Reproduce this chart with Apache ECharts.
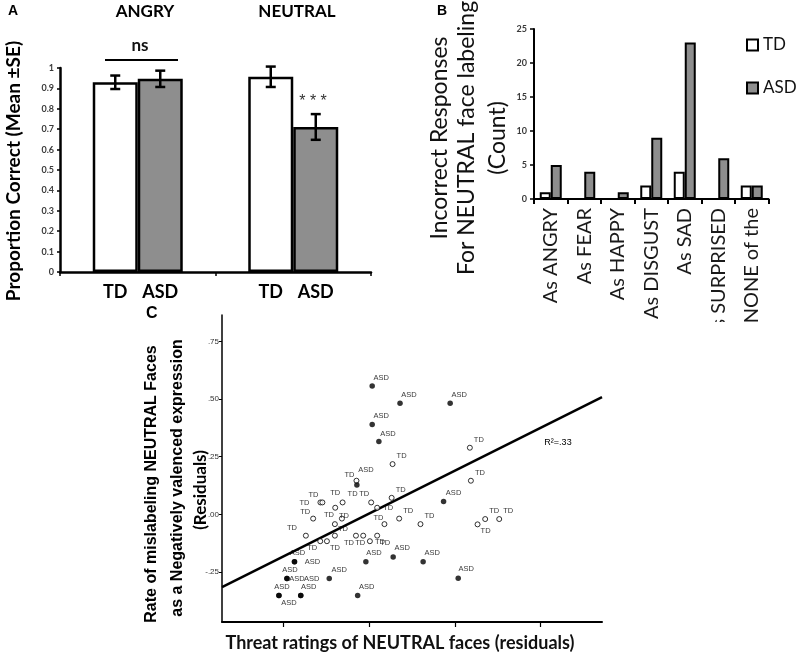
<!DOCTYPE html>
<html><head><meta charset="utf-8">
<script src="https://cdn.jsdelivr.net/npm/echarts@6/dist/echarts.min.js"></script>
<style>html,body{margin:0;padding:0;background:#fff}#c{width:800px;height:657px}</style>
</head><body><div id="c"></div>
<script>
// ---------- Panel A data ----------
const conditions = ['ANGRY', 'NEUTRAL'];
const tdMean = [0.93, 0.957];
const tdSE = [0.033, 0.05];
const asdMean = [0.947, 0.711];
const asdSE = [0.04, 0.063];

// ---------- Panel B data ----------
const errCategories = ['As ANGRY', 'As FEAR', 'As HAPPY', 'As DISGUST', 'As SAD', 'As SURPRISED', 'As NONE of the'];
const tdCounts = [1, 0, 0, 2, 4, 0, 2];
const asdCounts = [5, 4, 1, 9, 23, 6, 2];

// ---------- Panel C data ----------
const tdThreat = [1.176, 0.273, 1.188, -0.149, 0.262, 0.023, -0.570, -0.547, -0.311, -0.397, 0.093, -0.655, -0.319, 0.350, -0.401, 0.178, 0.599, 1.266, 1.355, 1.519, -0.740, -0.401, -0.155, -0.070, 0.093, -0.572, -0.494, 0.008];
const tdMislabel = [0.289, 0.218, 0.146, 0.146, 0.072, 0.052, 0.052, 0.052, 0.052, 0.029, 0.029, -0.018, -0.018, -0.018, -0.042, -0.042, -0.042, -0.043, -0.020, -0.020, -0.092, -0.092, -0.092, -0.092, -0.092, -0.116, -0.116, -0.116];
const asdThreat = [0.035, 0.36, 0.946, 0.035, 0.113, -0.144, 0.869, -0.873, -0.873, -0.039, 0.28, 0.63, -0.961, -0.961, -0.467, 1.04, -1.055, -1.055, -0.80, -0.80, -0.135];
const asdMislabel = [0.556, 0.482, 0.482, 0.390, 0.316, 0.128, 0.056, -0.205, -0.205, -0.205, -0.184, -0.205, -0.278, -0.278, -0.278, -0.277, -0.351, -0.351, -0.351, -0.351, -0.351];
const fitThreat = [-1.72, 2.72];
const fitMislabel = [-0.315, 0.508];
const cXTicks = [-1, 0, 1, 2];
const cYTicks = [-0.25, 0, 0.25, 0.5, 0.75];

// label placement (style only)
const tdLabelOffset = [[9,-8],[9,-8],[9,-8],[-7,-6],[9,-8],[-7,-8],[-7,-7],[-18,1],[10,-8],[0,-15],[11,0],[-8,-7],[-13,-4],[9,-8],[9,-8],[-6,-6],[9,-8],[8,7],[9,-8],[9,-8],[-14,-8],[8,-7],[-7,7],[-3,7],[8,7],[-8,7],[8,7],[10,1]];
const asdLabelOffset = [[9,-8],[9,-8],[9,-8],[9,-8],[9,-8],[9,-15],[10,-9],[3,-9],[18,0],[8,-9],[9,-9],[9,-9],[3,-9],[10,0],[10,-9],[8,-9],[3,-9],[10,7],[8,-9],[11,-17],[9,-9]];

const FONT = 'Lato';
const GRAY = '#8e8e8e';
const BAR_W_A = 45;

const errData = [];
conditions.forEach((c, i) => {
  errData.push([i, tdMean[i] - tdSE[i], tdMean[i] + tdSE[i], -1]);
  errData.push([i, asdMean[i] - asdSE[i], asdMean[i] + asdSE[i], 1]);
});

function renderErr(params, api) {
  const i = api.value(0);
  const lo = api.coord([i, api.value(1)]);
  const hi = api.coord([i, api.value(2)]);
  const x = lo[0] + api.value(3) * BAR_W_A / 2;
  const cap = 5;
  const st = { stroke: '#000', lineWidth: 2.5 };
  return { type: 'group', children: [
    { type: 'line', shape: { x1: x, y1: lo[1], x2: x, y2: hi[1] }, style: st },
    { type: 'line', shape: { x1: x - cap, y1: lo[1], x2: x + cap, y2: lo[1] }, style: st },
    { type: 'line', shape: { x1: x - cap, y1: hi[1], x2: x + cap, y2: hi[1] }, style: st }
  ]};
}

const tdPts = tdThreat.map((x, i) => ({ value: [x, tdMislabel[i]], label: { offset: tdLabelOffset[i] } }));
const asdPts = asdThreat.map((x, i) => ({ value: [x, asdMislabel[i]], label: { offset: asdLabelOffset[i] } }));
const fitPts = fitThreat.map((x, i) => [x, fitMislabel[i]]);

const axisBlack = w => ({ show: true, onZero: false, lineStyle: { color: '#000', width: w } });
const smallLbl = { fontFamily: FONT, fontWeight: 'bold', fontSize: 9, color: '#3a3a3a' };

const option = {
  backgroundColor: '#fff',
  animation: false,
  grid: [
    { left: 60, top: 68, width: 311, height: 204, outerBoundsMode: 'none' },
    { left: 534, top: 29, width: 234.5, height: 170, outerBoundsMode: 'none' },
    { left: 222, top: 315, width: 380, height: 307, outerBoundsMode: 'none' }
  ],
  xAxis: [
    { gridIndex: 0, type: 'category', data: conditions, axisLine: axisBlack(2.5),
      axisTick: { show: true, length: 4, lineStyle: { color: '#000', width: 1.5 } },
      axisLabel: { show: false } },
    { gridIndex: 1, type: 'category', data: errCategories, axisLine: axisBlack(2),
      axisTick: { show: true, length: 5, lineStyle: { color: '#000', width: 2 } },
      axisLabel: { interval: 0, rotate: 90, margin: 9, fontFamily: FONT, fontSize: 20, color: '#1a1a1a' } },
    { gridIndex: 2, type: 'value', min: fitThreat[0], max: fitThreat[1], axisLine: axisBlack(2),
      splitLine: { show: false },
      axisTick: { show: true, customValues: cXTicks, length: 5, lineStyle: { color: '#000', width: 1.2 } },
      axisLabel: { show: false } }
  ],
  yAxis: [
    { gridIndex: 0, type: 'value', min: 0, max: 1, interval: 0.1, axisLine: axisBlack(2.5),
      splitLine: { show: false },
      axisTick: { show: true, length: 3, lineStyle: { color: '#000', width: 1.5 } },
      axisLabel: Object.assign({ margin: 6 }, smallLbl) },
    { gridIndex: 1, type: 'value', min: 0, max: 25, interval: 5, axisLine: axisBlack(2),
      splitLine: { show: false },
      axisTick: { show: true, length: 4, lineStyle: { color: '#000', width: 1.5 } },
      axisLabel: Object.assign({ margin: 7 }, smallLbl) },
    { gridIndex: 2, type: 'value', min: -0.466, max: 0.864, axisLine: axisBlack(1.5),
      splitLine: { show: false },
      axisTick: { show: true, customValues: cYTicks, length: 3, lineStyle: { color: '#000', width: 1 } },
      axisLabel: { customValues: cYTicks, margin: 3, fontFamily: 'Liberation Sans', fontSize: 8, color: '#333',
        formatter: v => (Math.round(v * 100) / 100).toFixed(2).replace('0.', '.') } }
  ],
  legend: {
    data: ['TD', 'ASD'], orient: 'vertical', left: 746, top: 33, padding: 0, itemGap: 19, itemTextGap: 4,
    icon: 'rect', itemWidth: 11, itemHeight: 11,
    itemStyle: { borderColor: '#000', borderWidth: 2 },
    textStyle: { fontFamily: FONT, fontSize: 17, color: '#111', lineHeight: 24 }
  },
  series: [
    { name: 'TD', type: 'bar', xAxisIndex: 0, yAxisIndex: 0, data: tdMean, barWidth: BAR_W_A, barGap: '0%',
      itemStyle: { color: '#fff', borderColor: '#000', borderWidth: 2.5 },
      label: { show: true, position: 'bottom', distance: 11, formatter: '{a}', fontFamily: FONT, fontWeight: 'bold', fontSize: 18, color: '#000' } },
    { name: 'ASD', type: 'bar', xAxisIndex: 0, yAxisIndex: 0, data: asdMean, barWidth: BAR_W_A, barGap: '0%',
      itemStyle: { color: GRAY, borderColor: '#000', borderWidth: 2.5 },
      label: { show: true, position: 'bottom', distance: 11, formatter: '{a}', fontFamily: FONT, fontWeight: 'bold', fontSize: 18, color: '#000' } },
    { type: 'custom', xAxisIndex: 0, yAxisIndex: 0, data: errData, renderItem: renderErr, z: 10 },
    { name: 'TD', type: 'bar', xAxisIndex: 1, yAxisIndex: 1, data: tdCounts, barWidth: 11, barGap: '0%',
      itemStyle: { color: '#fff', borderColor: '#000', borderWidth: 2 } },
    { name: 'ASD', type: 'bar', xAxisIndex: 1, yAxisIndex: 1, data: asdCounts, barWidth: 11, barGap: '0%',
      itemStyle: { color: GRAY, borderColor: '#000', borderWidth: 2 } },
    { name: 'fit', type: 'line', xAxisIndex: 2, yAxisIndex: 2, data: fitPts, symbol: 'none',
      lineStyle: { color: '#000', width: 2.5 }, z: 3 },
    { name: 'TD', type: 'scatter', xAxisIndex: 2, yAxisIndex: 2, data: tdPts, symbol: 'circle', symbolSize: 5,
      itemStyle: { color: '#fff', borderColor: '#000', borderWidth: 1 },
      label: { show: true, position: 'inside', formatter: 'TD', fontFamily: 'Liberation Sans', fontSize: 7.5, color: '#000' }, z: 4 },
    { name: 'ASD', type: 'scatter', xAxisIndex: 2, yAxisIndex: 2, data: asdPts, symbol: 'circle', symbolSize: 5.5,
      itemStyle: { color: '#000' },
      label: { show: true, position: 'inside', formatter: 'ASD', fontFamily: 'Liberation Sans', fontSize: 7.5, color: '#000' }, z: 4 }
  ],
  graphic: [
    { type: 'rect', shape: { x: 606, y: 322, width: 194, height: 335 }, style: { fill: '#fff' }, z: 100 },
    { type: 'text', x: 8, y: 11, style: { text: 'A', font: 'bold 14px "Liberation Sans"', fill: '#000', verticalAlign: 'middle' } },
    { type: 'text', x: 437, y: 11, style: { text: 'B', font: 'bold 14px "Liberation Sans"', fill: '#000', verticalAlign: 'middle' } },
    { type: 'text', x: 146, y: 314, style: { text: 'C', font: 'bold 16px "Liberation Sans"', fill: '#000', verticalAlign: 'middle' } },
    { type: 'text', x: 145, y: 12, style: { text: 'ANGRY', font: 'bold 17px Lato', fill: '#000', align: 'center', verticalAlign: 'middle' } },
    { type: 'text', x: 297, y: 12, style: { text: 'NEUTRAL', font: 'bold 17px Lato', fill: '#000', align: 'center', verticalAlign: 'middle' } },
    { type: 'text', x: 140, y: 46, style: { text: 'ns', font: 'bold 17px Lato', fill: '#111', align: 'center', verticalAlign: 'middle' } },
    { type: 'line', shape: { x1: 105, y1: 60, x2: 178, y2: 60 }, style: { stroke: '#000', lineWidth: 2 } },
    { type: 'text', x: 313, y: 102, style: { text: '* * *', font: '16px "Liberation Sans"', fill: '#333', align: 'center', verticalAlign: 'middle' } },
    { type: 'text', x: 14, y: 171, rotation: Math.PI / 2, style: { text: 'Proportion Correct (Mean \u00b1SE)', font: 'bold 19px Lato', fill: '#000', align: 'center', verticalAlign: 'middle' } },
    { type: 'text', x: 440, y: 138, rotation: Math.PI / 2, style: { text: 'Incorrect Responses', font: '23px Lato', fill: '#111', align: 'center', verticalAlign: 'middle' } },
    { type: 'text', x: 467, y: 138, rotation: Math.PI / 2, style: { text: 'For NEUTRAL face labeling', font: '23px Lato', fill: '#111', align: 'center', verticalAlign: 'middle' } },
    { type: 'text', x: 498, y: 138, rotation: Math.PI / 2, style: { text: '(Count)', font: '23px Lato', fill: '#111', align: 'center', verticalAlign: 'middle' } },
    { type: 'text', x: 152, y: 484, rotation: Math.PI / 2, style: { text: 'Rate of mislabeling NEUTRAL Faces', font: 'bold 16px "Liberation Sans"', fill: '#000', align: 'center', verticalAlign: 'middle' } },
    { type: 'text', x: 178, y: 478, rotation: Math.PI / 2, style: { text: 'as a Negatively valenced expression', font: 'bold 16px "Liberation Sans"', fill: '#000', align: 'center', verticalAlign: 'middle' } },
    { type: 'text', x: 201, y: 490, rotation: Math.PI / 2, style: { text: '(Residuals)', font: 'bold 17px Lato', fill: '#000', align: 'center', verticalAlign: 'middle' } },
    { type: 'text', x: 400, y: 643, style: { text: 'Threat ratings of NEUTRAL faces (residuals)', font: 'bold 18px Lato', fill: '#111', align: 'center', verticalAlign: 'middle' } },
    { type: 'text', x: 558, y: 443, style: { text: 'R\u00b2=.33', font: '9px "Liberation Sans"', fill: '#000', align: 'center', verticalAlign: 'middle' } }
  ]
};

const chart = echarts.init(document.getElementById('c'));
chart.setOption(option);
</script>
</body></html>
